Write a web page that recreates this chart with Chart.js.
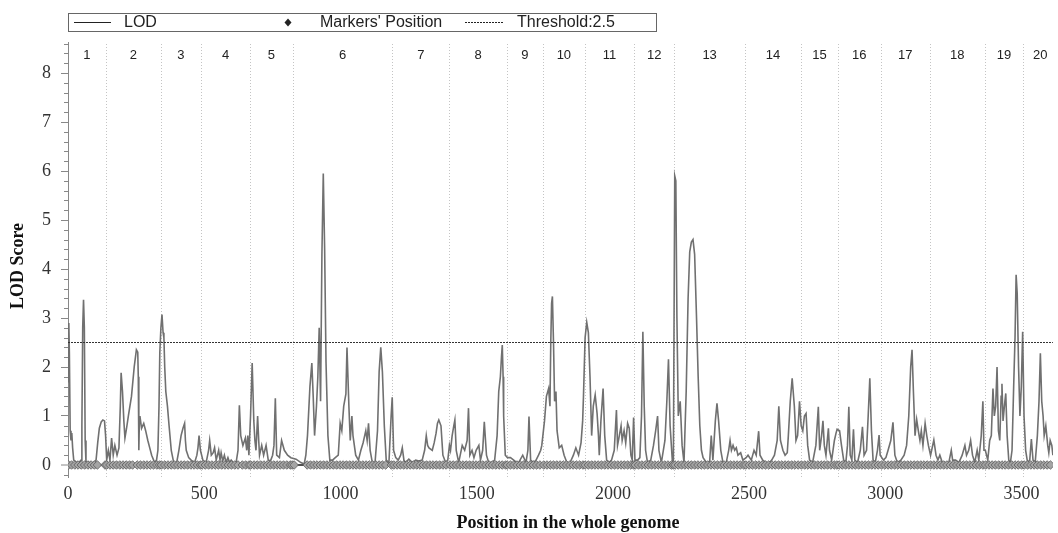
<!DOCTYPE html>
<html>
<head>
<meta charset="utf-8">
<script src="https://cdn.jsdelivr.net/npm/chart.js@4.4.1/dist/chart.umd.min.js"></script>
<style>
html,body{margin:0;padding:0;background:#fff;}
canvas{display:block;}
</style>
</head>
<body>
<canvas id="c" width="1058" height="533"></canvas>
<script>
// ---- data ----
const lodX = [0,3,5,8,11,14,17,21,30,40,48,51,54,57,60,63,66,75,85,95,103,109,115,122,128,134,138,142,
148,154,160,166,172,180,187,192,195,200,205,209,215,222,233,243,251,256,258,260,262,264,270,278,285,293,300,307,318,325,330,334,337,
341,345,349,352,355,359,365,371,379,388,398,407,415,422,428,431,434,443,452,465,473,477,481,486,
495,507,516,520,526,533,538,544,553,558,562,568,574,580,587,593,599,608,617,624,629,634,642,651,656,660,664,
670,676,682,686,690,696,700,703,711,718,727,735,743,751,756,761,766,776,784,794,806,818,
837,855,867,873,879,888,895,900,905,912,917,922,927,932,937,942,947,954,961,971,981,992,999,1005,1012,1020,1024,1031,1036,1042,1046,1056,1066,1075,1083,1093,1098,1103,1109,1117,1127,1136,1142,1148,1154,1161,1168,1178,1186,1190,
1195,1203,1212,1221,1227,1233,1239,1251,1264,1276,1288,1300,1309,1315,1320,1325,1337,1344,1351,1356,1361,1369,1376,1386,1394,
1400,1404,1410,1416,1420,1425,1434,1447,1456,1465,1470,1475,1483,1490,1498,1508,1514,1522,1528,1536,1544,1555,1566,1575,1581,1587,1591,1594,1597,1599,1605,
1613,1624,1636,1645,1654,1669,1681,1688,1692,1698,1709,1718,1727,1735,
1739,1749,1756,1764,1769,1772,1775,1778,1782,1786,1791,1795,1803,1812,1821,1831,1843,1855,1864,1874,1883,1889,1892,
1898,1904,1910,1916,1922,1928,1935,1942,1947,1950,1956,1964,1970,1977,1986,1995,2005,2013,2017,2022,2030,2034,2041,2047,2054,2060,2066,2071,2076,
2081,2091,2099,2105,2110,2115,2120,2127,2139,2149,2157,2164,2169,2178,2191,2198,2204,2210,2218,2222,
2227,2231,2235,2240,2247,2254,2261,2269,2276,2282,2288,2294,2300,2307,2313,2319,2325,2331,2343,2355,2361,2367,2376,2382,2388,2396,2404,2416,2425,2430,2435,2441,2447,2453,2459,2469,2477,
2489,2496,2508,2518,2526,2535,2540,2550,2563,2575,2583,2593,2603,2609,2615,2624,2632,2640,2644,2651,2658,2666,2672,2678,2685,
2691,2697,2703,2709,2715,2722,2733,2745,2754,2759,2766,2771,2776,2782,2791,2795,2803,2813,2819,2823,
2832,2839,2847,2855,2861,2866,2871,2877,2883,2888,2898,2908,2916,2922,2931,2937,2943,2949,2955,2963,2971,2977,2981,
2993,3002,3010,3020,3028,3035,3044,3057,3069,3078,3086,3093,3098,3103,3109,3115,3121,3127,3132,3138,3146,3152,3158,
3166,3170,3178,3186,3193,3200,3209,3221,3233,3242,3247,3258,3270,3282,3292,3298,3306,3313,3320,3328,3337,3343,3352,3358,3362,
3367,3376,3383,3389,3395,3400,3405,3410,3415,3420,3425,3428,3432,3437,3442,3447,3453,3459,3465,3471,3476,3480,3484,3489,3494,3499,3504,
3509,3515,3522,3530,3536,3542,3550,3558,3564,3569,3574,3579,3583,3589,3596,3600,3605,3611,3615];
const lodY = [1.7,2.9,2.3,0.7,0.5,0.65,0.35,0.1,0.06,0.05,0.1,0.8,2.8,3.37,2.8,0.5,0.05,0.06,0.04,0.05,0.1,0.45,0.75,0.88,0.92,0.9,0.6,0.1,
0.3,0.1,0.55,0.2,0.4,0.2,0.35,1.2,1.88,1.5,0.9,0.55,0.75,1.02,1.4,2.0,2.35,2.3,1.8,0.3,0.9,1.0,0.75,0.85,0.7,0.5,0.35,0.2,0.05,0.1,0.3,1.2,2.3,
2.8,3.07,2.7,2.6,2.0,1.5,1.2,0.8,0.3,0.05,0.02,0.3,0.6,0.75,0.85,0.5,0.3,0.15,0.1,0.05,0.2,0.35,0.6,0.3,
0.1,0.05,0.3,0.5,0.2,0.25,0.35,0.1,0.3,0.1,0.25,0.08,0.2,0.05,0.15,0.05,0.1,0.04,0.05,0.3,1.22,0.6,0.4,0.55,0.3,0.6,0.2,
1.0,2.08,0.9,0.5,0.3,1.0,0.5,0.2,0.4,0.2,0.4,0.1,0.08,0.2,0.4,1.36,0.2,0.15,0.5,0.3,0.2,0.15,
0.12,0.05,0.02,0.2,0.6,1.6,2.08,1.4,0.6,1.2,1.8,2.8,1.3,4.3,5.95,4.4,2.1,0.6,0.1,0.1,0.15,0.2,0.85,0.7,1.2,1.45,2.4,1.2,0.5,1.0,0.6,0.2,0.1,0.3,0.45,0.7,0.5,0.85,0.3,0.05,0.05,0.7,1.9,2.4,1.9,0.8,0.1,0.05,1.0,1.38,
0.3,0.15,0.1,0.2,0.35,0.1,0.05,0.12,0.05,0.1,0.08,0.1,0.3,0.6,0.4,0.35,0.3,0.45,0.65,0.85,0.92,0.8,0.2,0.05,0.1,
0.4,0.3,0.6,0.8,0.92,0.3,0.05,0.4,0.3,0.5,1.16,0.2,0.3,0.15,0.3,0.4,0.1,0.3,0.88,0.2,0.05,0.05,0.1,0.6,1.5,1.8,2.2,2.45,1.8,1.0,0.2,
0.15,0.15,0.1,0.06,0.05,0.2,0.05,0.3,0.99,0.1,0.05,0.1,0.2,0.3,
0.4,0.9,1.4,1.56,1.2,2.5,3.3,3.44,2.5,1.3,1.5,0.7,0.35,0.4,0.2,0.05,0.05,0.2,0.35,0.2,0.45,0.9,1.4,
2.6,2.91,2.7,1.8,0.6,1.2,1.43,1.05,0.6,0.2,0.9,1.56,0.6,0.1,0.05,0.1,0.3,1.12,0.4,0.55,0.8,0.5,0.7,0.45,0.85,0.75,0.2,0.1,0.97,
0.1,0.1,0.15,1.0,2.72,1.2,0.3,0.05,0.1,0.4,0.7,1.0,0.3,0.05,0.5,1.3,2.16,0.8,0.1,0.05,
5.9,5.8,3.0,1.0,1.3,0.4,0.05,1.5,3.4,4.35,4.55,4.6,4.3,3.0,1.8,0.8,0.3,0.15,0.05,0.05,0.6,0.1,0.9,1.26,0.9,0.3,0.05,0.05,0.3,0.5,0.3,0.4,0.3,0.35,0.2,0.25,0.1,
0.15,0.2,0.1,0.3,0.2,0.69,0.2,0.1,0.05,0.05,0.1,0.2,0.5,1.2,0.5,0.3,0.2,0.25,0.6,1.3,1.77,1.2,0.5,0.6,1.3,
0.8,0.7,1.0,1.05,0.4,0.1,0.05,0.4,1.19,0.3,0.6,0.9,0.4,0.2,0.75,0.3,0.1,0.5,0.65,0.73,
0.7,0.4,0.1,0.05,0.4,1.19,0.2,0.1,0.73,0.1,0.05,0.3,0.78,0.2,0.3,1.0,1.77,0.7,0.1,0.05,0.3,0.61,0.2,
0.1,0.15,0.3,0.5,0.87,0.2,0.05,0.1,0.2,0.4,1.0,2.0,2.35,1.5,0.6,0.93,0.7,0.5,0.7,0.4,0.85,0.6,0.4,
0.2,0.3,0.51,0.2,0.1,0.2,0.05,0.05,0.05,0.3,0.1,0.1,0.05,0.2,0.4,0.2,0.3,0.5,0.2,0.05,0.3,0.1,0.6,1.3,0.3,
0.3,0.1,0.5,0.6,1.56,1.0,1.2,2.0,0.7,0.5,1.4,1.66,0.9,1.2,1.46,0.6,0.1,0.05,0.3,1.6,2.6,3.88,3.5,2.0,1.0,1.6,2.72,
1.0,0.3,0.05,0.1,0.53,0.1,0.05,0.6,1.3,2.28,1.3,1.0,0.6,0.8,0.4,0.25,0.5,0.4,0.2];

const markerPos = [2,13,25,37,49,61,73,85,97,108,136,
142,154,166,178,190,202,214,226,237,254,266,278,290,302,314,326,336,
343,355,367,379,391,403,415,427,439,451,463,475,486,
492,504,516,528,540,552,564,576,588,600,612,624,640,652,664,
671,683,695,707,719,731,743,755,767,779,791,803,815,822,
830,878,890,902,914,926,938,950,962,974,986,998,1010,1022,1034,1046,1058,1070,1082,1094,1106,1118,1130,1142,1154,1166,1187,
1196,1208,1220,1232,1244,1256,1268,1280,1292,1304,1316,1328,1340,1352,1364,1376,1388,
1402,1414,1426,1438,1450,1462,1474,1486,1498,1510,1522,1534,1546,1558,1570,1582,1594,1606,
1612,1624,1636,1648,1660,1672,1684,1696,1708,1720,1732,
1746,1758,1770,1782,1794,1806,1818,1830,1842,1854,1866,1878,1890,
1898,1910,1922,1934,1946,1958,1970,1982,1994,2006,2018,2030,2042,2054,2066,2076,
2082,2094,2106,2118,2130,2142,2154,2166,2178,2190,2202,2214,2222,
2228,2240,2252,2264,2276,2288,2300,2312,2324,2336,2348,2360,2372,2384,2396,2408,2420,2432,2444,2456,2468,2480,
2488,2500,2512,2524,2536,2548,2560,2572,2584,2596,2608,2620,2632,2644,2656,2668,2680,
2692,2704,2716,2728,2740,2752,2764,2776,2788,2800,2812,2822,
2830,2842,2854,2866,2878,2890,2902,2914,2926,2938,2950,2962,2974,
2986,2998,3010,3022,3034,3046,3058,3070,3082,3094,3106,3118,3130,3142,3154,
3166,3178,3190,3202,3214,3226,3238,3250,3262,3274,3286,3298,3310,3322,3334,3346,3358,
3368,3380,3392,3404,3416,3428,3440,3452,3464,3476,3488,3500,
3510,3522,3534,3546,3558,3570,3582,3594,3606];

const chromNames = ['1','2','3','4','5','6','7','8','9','10','11','12','13','14','15','16','17','18','19','20'];
const chromBounds = [0,139,340,489,668,825,1191,1400,1610,1744,1896,2079,2225,2485,2690,2826,2983,3163,3364,3507,3630];
const xTicks = [0,500,1000,1500,2000,2500,3000,3500];
const yTicks = [0,1,2,3,4,5,6,7,8];
const threshold = 2.5;
const xRange = [0, 3615];
const yRange = [-0.245, 8.633];

// ---- plugin for decorations ----
const decor = {
  id: 'decor',
  beforeDatasetsDraw(chart) {
    const {ctx, chartArea, scales} = chart;
    const x = scales.x;
    ctx.save();
    ctx.strokeStyle = '#c4c4c4';
    ctx.lineWidth = 1;
    ctx.setLineDash([1, 2]);
    for (let i = 1; i < chromBounds.length - 1; i++) {
      const px = Math.round(x.getPixelForValue(chromBounds[i])) + 0.5;
      ctx.beginPath();
      ctx.moveTo(px, 44);
      ctx.lineTo(px, chartArea.bottom);
      ctx.stroke();
    }
    ctx.restore();
  },
  afterDraw(chart) {
    const {ctx, chartArea, scales} = chart;
    const x = scales.x, y = scales.y;
    ctx.save();
    // minor y ticks
    ctx.strokeStyle = '#888';
    ctx.lineWidth = 1;
    for (let k = -1; k <= 43; k++) {
      if (k % 5 === 0) continue;
      const v = k * 0.2;
      if (v < yRange[0] || v > yRange[1]) continue;
      const py = Math.round(y.getPixelForValue(v)) + 0.5;
      ctx.beginPath();
      ctx.moveTo(chartArea.left - 4, py);
      ctx.lineTo(chartArea.left, py);
      ctx.stroke();
    }
    // chromosome labels
    ctx.fillStyle = '#222';
    ctx.font = '13px "Liberation Sans", Arial, sans-serif';
    ctx.textAlign = 'center';
    ctx.textBaseline = 'middle';
    for (let i = 0; i < chromNames.length; i++) {
      const c = (chromBounds[i] + chromBounds[i + 1]) / 2;
      ctx.fillText(chromNames[i], x.getPixelForValue(c), 55);
    }
    // legend
    ctx.strokeStyle = '#666';
    ctx.lineWidth = 1;
    ctx.strokeRect(68.5, 13.5, 588, 18);
    ctx.strokeStyle = '#222';
    ctx.beginPath(); ctx.moveTo(74, 22.5); ctx.lineTo(111, 22.5); ctx.stroke();
    ctx.setLineDash([2, 1]);
    ctx.beginPath(); ctx.moveTo(465, 22.5); ctx.lineTo(503, 22.5); ctx.stroke();
    ctx.setLineDash([]);
    ctx.fillStyle = '#222';
    ctx.beginPath();
    ctx.moveTo(288, 18.5); ctx.lineTo(291.5, 22.5); ctx.lineTo(288, 26.5); ctx.lineTo(284.5, 22.5); ctx.closePath();
    ctx.fill();
    ctx.font = '16px "Liberation Sans", Arial, sans-serif';
    ctx.textAlign = 'left';
    ctx.textBaseline = 'middle';
    ctx.fillText('LOD', 124, 22.5);
    ctx.fillText("Markers' Position", 320, 22.5);
    ctx.fillText('Threshold:2.5', 517, 22.5);
    // axis titles
    ctx.fillStyle = '#111';
    ctx.font = 'bold 18px "Liberation Serif", "Times New Roman", serif';
    ctx.textAlign = 'center';
    ctx.fillText('Position in the whole genome', 568, 523);
    ctx.translate(18, 266);
    ctx.rotate(-Math.PI / 2);
    ctx.fillText('LOD Score', 0, 0);
    ctx.restore();
  }
};

const lodData = lodX.map((v, i) => ({x: v, y: lodY[i]}));
const markerData = markerPos.map(v => ({x: v, y: 0}));
const thrData = [{x: xRange[0], y: threshold}, {x: xRange[1], y: threshold}];

new Chart(document.getElementById('c'), {
  type: 'scatter',
  data: {
    datasets: [
      {label: 'Threshold:2.5', type: 'line', data: thrData, borderColor: '#333', borderWidth: 1, borderDash: [2, 1], pointRadius: 0, order: 0},
      {label: "Markers' Position", data: markerData, pointStyle: 'rectRot', pointRadius: 4.3, backgroundColor: '#a4a4a4', borderColor: '#5a5a5a', borderWidth: 0.8, order: 1},
      {label: 'LOD', type: 'line', data: lodData, borderColor: '#707070', borderWidth: 1.6, pointRadius: 0, tension: 0, order: 2}
    ]
  },
  options: {
    responsive: false,
    animation: false,
    events: [],
    layout: {padding: {left: 0, right: 2, top: 42, bottom: 0}},
    plugins: {legend: {display: false}, tooltip: {enabled: false}},
    scales: {
      x: {
        type: 'linear', min: xRange[0], max: xRange[1],
        afterBuildTicks: s => { s.ticks = xTicks.map(v => ({value: v})); },
        afterFit: s => { s.height = 56; },
        grid: {display: false, drawTicks: false},
        border: {display: false},
        ticks: {padding: 6, color: '#333', font: {family: '"Liberation Serif", "Times New Roman", serif', size: 18}, maxRotation: 0, autoSkip: false, callback: v => String(v)}
      },
      y: {
        type: 'linear', min: yRange[0], max: yRange[1],
        afterBuildTicks: s => { s.ticks = yTicks.map(v => ({value: v})); },
        afterFit: s => { s.width = 68; },
        grid: {
          drawOnChartArea: true,
          color: c => (c.tick && c.tick.value === 0) ? '#505050' : 'rgba(0,0,0,0)',
          lineWidth: c => (c.tick && c.tick.value === 0) ? 2 : 1,
          tickColor: '#888', tickLength: 7, tickWidth: 1
        },
        border: {display: true, color: '#888', width: 1},
        ticks: {padding: 10, color: '#333', font: {family: '"Liberation Serif", "Times New Roman", serif', size: 18}, callback: v => String(v)}
      }
    }
  },
  plugins: [decor]
});
</script>
</body>
</html>
